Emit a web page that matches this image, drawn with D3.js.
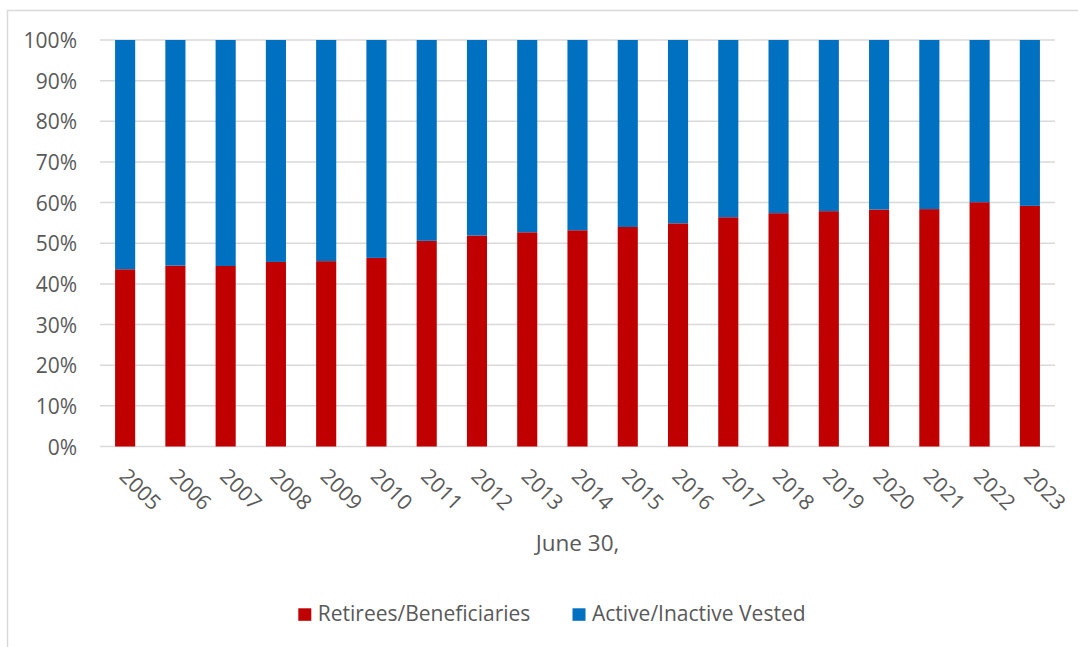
<!DOCTYPE html>
<html>
<head>
<meta charset="utf-8">
<script src="https://cdn.jsdelivr.net/npm/d3@7"></script>
<style>
  html, body { margin: 0; padding: 0; background: #fff; }
  svg { display: block; }
  text { font-family: "Open Sans", "Liberation Sans", sans-serif; fill: #595959; }
</style>
</head>
<body>
<svg id="chart" width="1078" height="647"></svg>
<script>
// Membership mix by fiscal year end (June 30), percent of total
const years = ["2005","2006","2007","2008","2009","2010","2011","2012","2013","2014",
               "2015","2016","2017","2018","2019","2020","2021","2022","2023"];
const retirees = [43.6,44.5,44.4,45.4,45.6,46.4,50.6,51.9,52.7,53.2,
                  54.0,54.9,56.4,57.4,57.9,58.3,58.4,60.1,59.2];
const activeVested = [56.4,55.5,55.6,54.6,54.4,53.6,49.4,48.1,47.3,46.8,
                      46.0,45.1,43.6,42.6,42.1,41.7,41.6,39.9,40.8];
const seriesNames = ["Retirees/Beneficiaries", "Active/Inactive Vested"];
const seriesColors = ["#C00000", "#0070C0"];
const tickValues = [0, 0.1, 0.2, 0.3, 0.4, 0.5, 0.6, 0.7, 0.8, 0.9, 1.0];
const axisTitle = "June 30,";

const svg = d3.select("#chart");

// outer frame of the chart area
svg.append("rect")
  .attr("x", 7.5).attr("y", 10.5)
  .attr("width", 1100).attr("height", 700)
  .attr("fill", "none").attr("stroke", "#d9d9d9").attr("stroke-width", 1.5);

const plot = { left: 100, right: 1055, top: 40, bottom: 446.5 };

const x = d3.scaleBand()
  .domain(years)
  .range([plot.left, plot.right])
  .paddingInner(0.6)
  .paddingOuter(0.3);

const y = d3.scaleLinear()
  .domain([0, 1])
  .range([plot.bottom, plot.top]);

// gridlines
svg.append("g")
  .selectAll("line")
  .data(tickValues)
  .join("line")
  .attr("x1", plot.left).attr("x2", plot.right)
  .attr("y1", d => y(d)).attr("y2", d => y(d))
  .attr("stroke", "#d9d9d9").attr("stroke-width", 1.5);

// y tick labels
const yAxis = d3.axisLeft(y)
  .tickValues(tickValues)
  .tickFormat(d3.format(".0%"))
  .tickSize(0)
  .tickPadding(0);
const yG = svg.append("g")
  .attr("transform", `translate(77,0)`)
  .call(yAxis);
yG.select(".domain").remove();
yG.selectAll("text")
  .attr("font-size", 21)
  .attr("font-family", null)
  .attr("fill", "#595959")
  .attr("dy", "0.36em");

// stacked bars (100% stacked)
const rows = years.map((yr, i) => ({ year: yr, r: retirees[i], a: activeVested[i] }));
const stack = d3.stack().keys(["r", "a"]).offset(d3.stackOffsetExpand);
const layers = stack(rows);

svg.append("g")
  .selectAll("g")
  .data(layers)
  .join("g")
  .attr("fill", (d, i) => seriesColors[i])
  .selectAll("rect")
  .data(d => d)
  .join("rect")
  .attr("x", d => x(d.data.year))
  .attr("width", x.bandwidth())
  .attr("y", d => y(d[1]))
  .attr("height", d => y(d[0]) - y(d[1]));

// x tick labels, rotated
const xAxis = d3.axisBottom(x).tickSize(0).tickPadding(0);
const xG = svg.append("g")
  .attr("transform", `translate(0,${plot.bottom})`)
  .call(xAxis);
xG.select(".domain").remove();
xG.selectAll("text")
  .attr("font-size", 21)
  .attr("font-family", null)
  .attr("fill", "#595959")
  .attr("text-anchor", "start")
  .attr("dy", null)
  .attr("y", 0)
  .attr("transform", "translate(-7,31) rotate(45)");

// axis title
svg.append("text")
  .attr("x", (plot.left + plot.right) / 2)
  .attr("y", 551)
  .attr("text-anchor", "middle")
  .attr("font-size", 22.5)
  .text(axisTitle);

// legend
const legendItems = [
  { name: seriesNames[0], color: seriesColors[0], x: 298.3 },
  { name: seriesNames[1], color: seriesColors[1], x: 572.5 }
];
const lg = svg.append("g");
legendItems.forEach(it => {
  lg.append("rect")
    .attr("x", it.x).attr("y", 608.3)
    .attr("width", 13).attr("height", 12.5)
    .attr("fill", it.color);
  lg.append("text")
    .attr("x", it.x + 19.5).attr("y", 621)
    .attr("font-size", 21)
    .text(it.name);
});
</script>
</body>
</html>
